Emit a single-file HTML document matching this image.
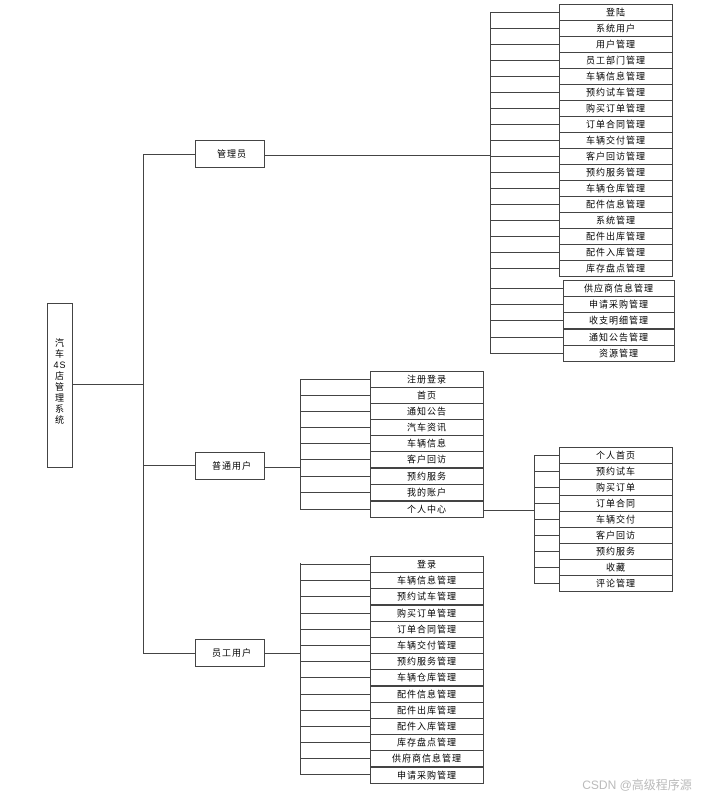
<!DOCTYPE html>
<html><head><meta charset="utf-8"><style>
html,body{margin:0;padding:0;background:#fff;}
svg{display:block;}
text{font-family:"Liberation Sans","Noto Sans CJK SC",sans-serif;font-size:9px;fill:#000;text-anchor:middle;letter-spacing:1px;}
rect{fill:#fff;stroke:#444;stroke-width:1;}
line{stroke:#444;stroke-width:1;}
</style></head><body>
<svg width="704" height="797" viewBox="0 0 704 797">
<!-- root -->
<rect x="47.5" y="303.5" width="25" height="164"/>
<text x="60" y="346">汽</text><text x="60" y="357">车</text><text x="60" y="368">4S</text><text x="60" y="379">店</text><text x="60" y="390">管</text><text x="60" y="401">理</text><text x="60" y="412">系</text><text x="60" y="423">统</text>
<line x1="72" y1="384.5" x2="143" y2="384.5"/>
<line x1="143.5" y1="154" x2="143.5" y2="653"/>
<line x1="143" y1="154.5" x2="195" y2="154.5"/>
<line x1="143" y1="465.5" x2="195" y2="465.5"/>
<line x1="143" y1="653.5" x2="195" y2="653.5"/>
<rect x="195.5" y="140.5" width="69" height="27"/><text x="232" y="157">管理员</text>
<rect x="195.5" y="452.5" width="69" height="27"/><text x="232" y="469">普通用户</text>
<rect x="195.5" y="639.5" width="69" height="27"/><text x="232" y="656">员工用户</text>

<!-- admin -->
<line x1="264" y1="155.5" x2="490" y2="155.5"/>
<line x1="490.5" y1="12" x2="490.5" y2="353"/>
<g>
<line x1="490" y1="12.5" x2="559" y2="12.5"/><rect x="559.5" y="4.5" width="113" height="16"/><text x="616" y="15.5">登陆</text>
<line x1="490" y1="28.5" x2="559" y2="28.5"/><rect x="559.5" y="20.5" width="113" height="16"/><text x="616" y="31.5">系统用户</text>
<line x1="490" y1="44.5" x2="559" y2="44.5"/><rect x="559.5" y="36.5" width="113" height="16"/><text x="616" y="47.5">用户管理</text>
<line x1="490" y1="60.5" x2="559" y2="60.5"/><rect x="559.5" y="52.5" width="113" height="16"/><text x="616" y="63.5">员工部门管理</text>
<line x1="490" y1="76.5" x2="559" y2="76.5"/><rect x="559.5" y="68.5" width="113" height="16"/><text x="616" y="79.5">车辆信息管理</text>
<line x1="490" y1="92.5" x2="559" y2="92.5"/><rect x="559.5" y="84.5" width="113" height="16"/><text x="616" y="95.5">预约试车管理</text>
<line x1="490" y1="108.5" x2="559" y2="108.5"/><rect x="559.5" y="100.5" width="113" height="16"/><text x="616" y="111.5">购买订单管理</text>
<line x1="490" y1="124.5" x2="559" y2="124.5"/><rect x="559.5" y="116.5" width="113" height="16"/><text x="616" y="127.5">订单合同管理</text>
<line x1="490" y1="140.5" x2="559" y2="140.5"/><rect x="559.5" y="132.5" width="113" height="16"/><text x="616" y="143.5">车辆交付管理</text>
<line x1="490" y1="156.5" x2="559" y2="156.5"/><rect x="559.5" y="148.5" width="113" height="16"/><text x="616" y="159.5">客户回访管理</text>
<line x1="490" y1="172.5" x2="559" y2="172.5"/><rect x="559.5" y="164.5" width="113" height="16"/><text x="616" y="175.5">预约服务管理</text>
<line x1="490" y1="188.5" x2="559" y2="188.5"/><rect x="559.5" y="180.5" width="113" height="16"/><text x="616" y="191.5">车辆仓库管理</text>
<line x1="490" y1="204.5" x2="559" y2="204.5"/><rect x="559.5" y="196.5" width="113" height="16"/><text x="616" y="207.5">配件信息管理</text>
<line x1="490" y1="220.5" x2="559" y2="220.5"/><rect x="559.5" y="212.5" width="113" height="16"/><text x="616" y="223.5">系统管理</text>
<line x1="490" y1="236.5" x2="559" y2="236.5"/><rect x="559.5" y="228.5" width="113" height="16"/><text x="616" y="239.5">配件出库管理</text>
<line x1="490" y1="252.5" x2="559" y2="252.5"/><rect x="559.5" y="244.5" width="113" height="16"/><text x="616" y="255.5">配件入库管理</text>
<line x1="490" y1="268.5" x2="559" y2="268.5"/><rect x="559.5" y="260.5" width="113" height="16"/><text x="616" y="271.5">库存盘点管理</text>
<line x1="490" y1="288.5" x2="563" y2="288.5"/><rect x="563.5" y="280.5" width="111" height="16"/><text x="619" y="291.5">供应商信息管理</text>
<line x1="490" y1="304.5" x2="563" y2="304.5"/><rect x="563.5" y="296.5" width="111" height="16"/><text x="619" y="307.5">申请采购管理</text>
<line x1="490" y1="320.5" x2="563" y2="320.5"/><rect x="563.5" y="312.5" width="111" height="16"/><text x="619" y="323.5">收支明细管理</text>
<line x1="490" y1="337.5" x2="563" y2="337.5"/><rect x="563.5" y="329.5" width="111" height="16"/><text x="619" y="340.5">通知公告管理</text>
<line x1="490" y1="353.5" x2="563" y2="353.5"/><rect x="563.5" y="345.5" width="111" height="16"/><text x="619" y="356.5">资源管理</text>
</g>

<!-- normal user -->
<line x1="264" y1="467.5" x2="300" y2="467.5"/>
<line x1="300.5" y1="379" x2="300.5" y2="510"/>
<line x1="300" y1="379.5" x2="370" y2="379.5"/><rect x="370.5" y="371.5" width="113" height="16"/><text x="427" y="382.5">注册登录</text>
<line x1="300" y1="395.5" x2="370" y2="395.5"/><rect x="370.5" y="387.5" width="113" height="16"/><text x="427" y="398.5">首页</text>
<line x1="300" y1="411.5" x2="370" y2="411.5"/><rect x="370.5" y="403.5" width="113" height="16"/><text x="427" y="414.5">通知公告</text>
<line x1="300" y1="427.5" x2="370" y2="427.5"/><rect x="370.5" y="419.5" width="113" height="16"/><text x="427" y="430.5">汽车资讯</text>
<line x1="300" y1="443.5" x2="370" y2="443.5"/><rect x="370.5" y="435.5" width="113" height="16"/><text x="427" y="446.5">车辆信息</text>
<line x1="300" y1="459.5" x2="370" y2="459.5"/><rect x="370.5" y="451.5" width="113" height="16"/><text x="427" y="462.5">客户回访</text>
<line x1="300" y1="476.5" x2="370" y2="476.5"/><rect x="370.5" y="468.5" width="113" height="16"/><text x="427" y="479.5">预约服务</text>
<line x1="300" y1="492.5" x2="370" y2="492.5"/><rect x="370.5" y="484.5" width="113" height="16"/><text x="427" y="495.5">我的账户</text>
<line x1="300" y1="509.5" x2="370" y2="509.5"/><rect x="370.5" y="501.5" width="113" height="16"/><text x="427" y="512.5">个人中心</text>

<!-- personal center -->
<line x1="483" y1="510.5" x2="534" y2="510.5"/>
<line x1="534.5" y1="455" x2="534.5" y2="583"/>
<line x1="534" y1="455.5" x2="559" y2="455.5"/><rect x="559.5" y="447.5" width="113" height="16"/><text x="616" y="458.5">个人首页</text>
<line x1="534" y1="471.5" x2="559" y2="471.5"/><rect x="559.5" y="463.5" width="113" height="16"/><text x="616" y="474.5">预约试车</text>
<line x1="534" y1="487.5" x2="559" y2="487.5"/><rect x="559.5" y="479.5" width="113" height="16"/><text x="616" y="490.5">购买订单</text>
<line x1="534" y1="503.5" x2="559" y2="503.5"/><rect x="559.5" y="495.5" width="113" height="16"/><text x="616" y="506.5">订单合同</text>
<line x1="534" y1="519.5" x2="559" y2="519.5"/><rect x="559.5" y="511.5" width="113" height="16"/><text x="616" y="522.5">车辆交付</text>
<line x1="534" y1="535.5" x2="559" y2="535.5"/><rect x="559.5" y="527.5" width="113" height="16"/><text x="616" y="538.5">客户回访</text>
<line x1="534" y1="551.5" x2="559" y2="551.5"/><rect x="559.5" y="543.5" width="113" height="16"/><text x="616" y="554.5">预约服务</text>
<line x1="534" y1="567.5" x2="559" y2="567.5"/><rect x="559.5" y="559.5" width="113" height="16"/><text x="616" y="570.5">收藏</text>
<line x1="534" y1="583.5" x2="559" y2="583.5"/><rect x="559.5" y="575.5" width="113" height="16"/><text x="616" y="586.5">评论管理</text>

<!-- staff -->
<line x1="264" y1="653.5" x2="300" y2="653.5"/>
<line x1="300.5" y1="563" x2="300.5" y2="774"/>
<line x1="300" y1="564.5" x2="370" y2="564.5"/><rect x="370.5" y="556.5" width="113" height="16"/><text x="427" y="567.5">登录</text>
<line x1="300" y1="580.5" x2="370" y2="580.5"/><rect x="370.5" y="572.5" width="113" height="16"/><text x="427" y="583.5">车辆信息管理</text>
<line x1="300" y1="596.5" x2="370" y2="596.5"/><rect x="370.5" y="588.5" width="113" height="16"/><text x="427" y="599.5">预约试车管理</text>
<line x1="300" y1="613.5" x2="370" y2="613.5"/><rect x="370.5" y="605.5" width="113" height="16"/><text x="427" y="616.5">购买订单管理</text>
<line x1="300" y1="629.5" x2="370" y2="629.5"/><rect x="370.5" y="621.5" width="113" height="16"/><text x="427" y="632.5">订单合同管理</text>
<line x1="300" y1="645.5" x2="370" y2="645.5"/><rect x="370.5" y="637.5" width="113" height="16"/><text x="427" y="648.5">车辆交付管理</text>
<line x1="300" y1="661.5" x2="370" y2="661.5"/><rect x="370.5" y="653.5" width="113" height="16"/><text x="427" y="664.5">预约服务管理</text>
<line x1="300" y1="677.5" x2="370" y2="677.5"/><rect x="370.5" y="669.5" width="113" height="16"/><text x="427" y="680.5">车辆仓库管理</text>
<line x1="300" y1="694.5" x2="370" y2="694.5"/><rect x="370.5" y="686.5" width="113" height="16"/><text x="427" y="697.5">配件信息管理</text>
<line x1="300" y1="710.5" x2="370" y2="710.5"/><rect x="370.5" y="702.5" width="113" height="16"/><text x="427" y="713.5">配件出库管理</text>
<line x1="300" y1="726.5" x2="370" y2="726.5"/><rect x="370.5" y="718.5" width="113" height="16"/><text x="427" y="729.5">配件入库管理</text>
<line x1="300" y1="742.5" x2="370" y2="742.5"/><rect x="370.5" y="734.5" width="113" height="16"/><text x="427" y="745.5">库存盘点管理</text>
<line x1="300" y1="758.5" x2="370" y2="758.5"/><rect x="370.5" y="750.5" width="113" height="16"/><text x="427" y="761.5">供府商信息管理</text>
<line x1="300" y1="774.5" x2="370" y2="774.5"/><rect x="370.5" y="767.5" width="113" height="16"/><text x="427" y="778.5">申请采购管理</text>

<text x="637" y="789" style="font-size:12px;fill:#bbb;letter-spacing:0">CSDN @高级程序源</text>
</svg>
</body></html>
